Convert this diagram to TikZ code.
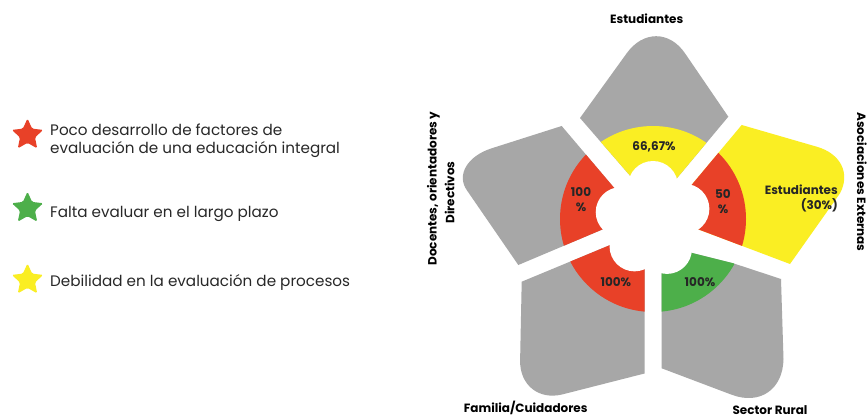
\documentclass[tikz,border=0pt]{standalone}
\usepackage{fontspec}
\setmainfont{Poppins}
\usetikzlibrary{shapes.geometric,calc}
\definecolor{petalgray}{RGB}{167,167,167}
\definecolor{pyellow}{RGB}{250,238,35}
\definecolor{pred}{RGB}{232,65,40}
\definecolor{pgreen}{RGB}{77,175,74}
\definecolor{txtdark}{RGB}{40,40,40}
\begin{document}
\begin{tikzpicture}[x=1pt,y=-1pt,
  lbl/.style={font=\bfseries\fontsize{12}{15}\selectfont, text=black, inner sep=0pt},
  pct/.style={font=\bfseries\fontsize{12}{15}\selectfont, text=black!85, inner sep=0pt, align=center},
  legtxt/.style={font=\fontsize{15.2}{17.3}\selectfont, text=txtdark, inner sep=0pt, align=left},
  legstar/.style={star, star points=5, star point ratio=2.1, minimum size=33pt, inner sep=0pt, rounded corners=1.5pt},
]
\useasboundingbox (0,0) rectangle (868,417);
\fill[white] (0,0) rectangle (868,417);
\coordinate (C) at (653,219);

% petals
\begin{scope}
\clip (643,190.6) -- (580,118) -- (626.7,53.3) .. controls (643.1,30.5) and (669.4,30.5) .. (685,53.3) -- (728.3,116.7) -- (664.2,193.4) -- cycle;
\fill[petalgray] (0,0) rectangle (868,417);
\fill[pyellow] (C) circle (93);
\end{scope}
\begin{scope}
\clip (626.4,202.3) -- (561.7,126) -- (491.7,148.3) .. controls (467.5,156) and (456.3,174.8) .. (466.7,190) -- (518.3,265) -- (619.6,222.2) -- cycle;
\fill[petalgray] (0,0) rectangle (868,417);
\fill[pred] (C) circle (93);
\end{scope}
\begin{scope}
\clip (677.6,201.7) -- (741.7,125) -- (816.7,146.7) .. controls (841,153.7) and (850.5,173.5) .. (840,193.3) -- (790,264) -- (679.6,222.3) -- cycle;
\fill[pyellow] (0,0) rectangle (868,417);
\fill[pred] (C) circle (93);
\end{scope}
\begin{scope}
\clip (632.6,235.7) -- (521.7,281.7) -- (520.1,360.4) .. controls (519.7,385.2) and (538.8,400.4) .. (562.8,394.3) -- (644.5,373.5) -- (644.5,238) -- cycle;
\fill[petalgray] (0,0) rectangle (868,417);
\fill[pred] (C) circle (93);
\end{scope}
\begin{scope}
\clip (661.7,244.5) -- (661.7,368.3) -- (731.6,394.7) .. controls (759.9,405.4) and (783,389.5) .. (783.5,359) -- (781,279) -- (733.3,263.3) -- (693.3,253.3) -- cycle;
\fill[petalgray] (0,0) rectangle (868,417);
\fill[pgreen] (C) circle (93);
\end{scope}

% central hole (five lobes)
\fill[white] (C) circle (36);
\foreach \a in {90,168,18,236,295} \fill[white] ($(C)+(-\a:33)$) circle (25);

% sector values
\node[pct] (vtop) at (654,146.7) {66,67\%};
\node[pct] (vleft) at (581,200) {100\\\%};
\node[pct] (vright) at (723,201.5) {50\\\%};
\node[pct, align=right, anchor=east] (vext) at (838,198) {Estudiantes\\(30\%)};
\node[pct] (vbl) at (615.8,281.7) {100\%};
\node[pct] (vbr) at (700,281.7) {100\%};

% petal labels
\node[lbl, anchor=base] (lest) at (646.7,24) {Estudiantes};
\node[lbl, rotate=90] (ldoca) at (433.5,188.5) {Docentes, orientadores y};
\node[lbl, rotate=90] (ldocb) at (449.5,192.5) {Directivos};
\node[lbl, rotate=-90] (laso) at (862,182) {Asociaciones Externas};
\node[lbl, anchor=base] (lfam) at (525.7,412) {Familia/Cuidadores};
\node[lbl, anchor=base] (lsec) at (770,414) {Sector Rural};

% legend
\node[legstar, fill=pred] (s1) at (27.5,135) {};
\node[legstar, fill=pgreen] (s2) at (27.5,208.3) {};
\node[legstar, fill=pyellow] (s3) at (27.5,280) {};
\node[legtxt, anchor=north west] (t1) at (50,124) {Poco desarrollo de factores de\\evaluación de una educación integral};
\node[legtxt, anchor=base west] (t2) at (50,217.3) {Falta evaluar en el largo plazo};
\node[legtxt, anchor=base west] (t3) at (50,286) {Debilidad en la evaluación de procesos};
\end{tikzpicture}
\end{document}
